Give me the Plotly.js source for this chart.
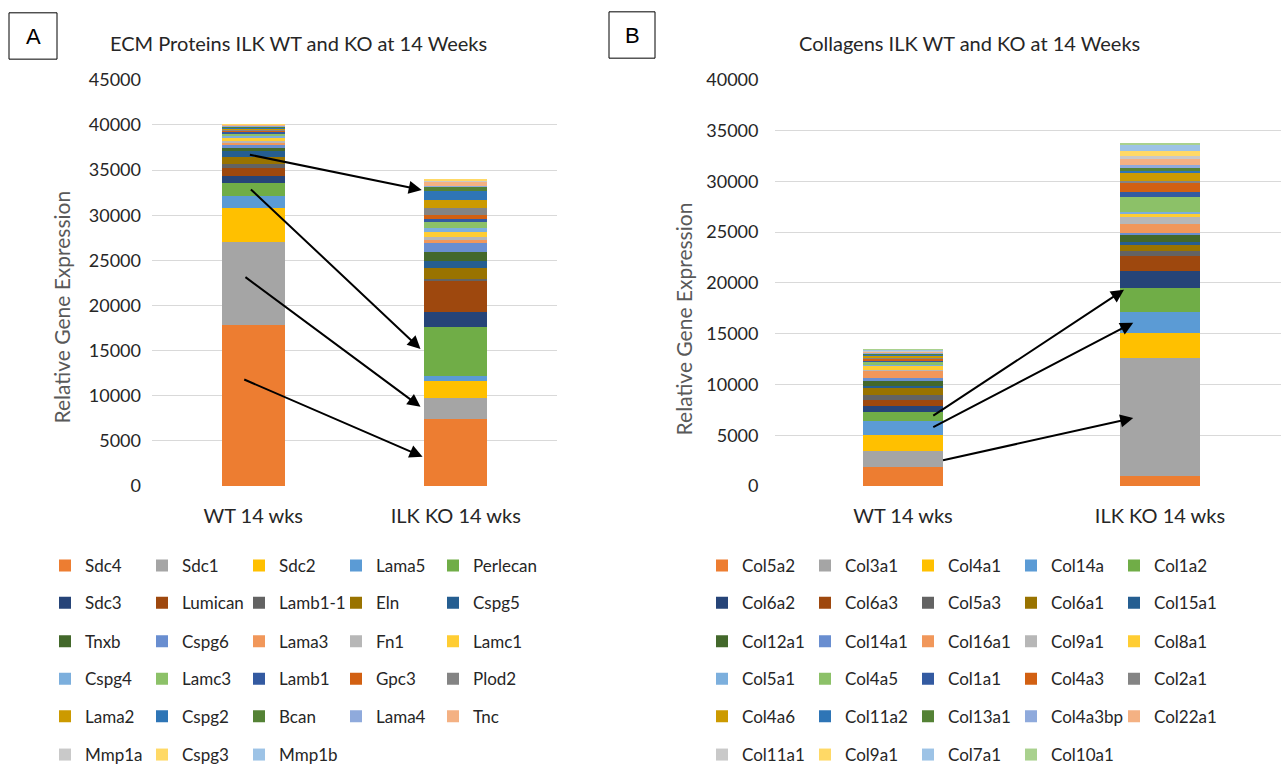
<!DOCTYPE html>
<html><head><meta charset="utf-8">
<script src="https://cdn.plot.ly/plotly-3.0.1.min.js"></script>
<style>html,body{margin:0;padding:0;background:#fff;}#chart{width:1281px;height:773px;}</style>
</head><body><div id="chart"></div>
<script>
const categories = ['WT 14 wks', 'ILK KO 14 wks'];

const ecmNames = ['Sdc4','Sdc1','Sdc2','Lama5','Perlecan','Sdc3','Lumican','Lamb1-1','Eln','Cspg5',
  'Tnxb','Cspg6','Lama3','Fn1','Lamc1','Cspg4','Lamc3','Lamb1','Gpc3','Plod2',
  'Lama2','Cspg2','Bcan','Lama4','Tnc','Mmp1a','Cspg3','Mmp1b'];
const ecmWT = [17800,9180,3820,1280,1450,840,910,440,720,730,
  260,350,250,200,300,250,250,150,120,150,
  150,100,80,100,80,60,50,30];
const ecmKO = [7420,2380,1810,550,5460,1640,3460,180,1270,730,
  980,1090,300,360,550,440,650,290,440,800,
  840,1090,360,180,440,110,180,60];

const colNames = ['Col5a2','Col3a1','Col4a1','Col14a','Col1a2','Col6a2','Col6a3','Col5a3','Col6a1','Col15a1',
  'Col12a1','Col14a1','Col16a1','Col9a1','Col8a1','Col5a1','Col4a5','Col1a1','Col4a3','Col2a1',
  'Col4a6','Col11a2','Col13a1','Col4a3bp','Col22a1','Col11a1','Col9a1','Col7a1','Col10a1'];
const colWT = [1910,1550,1520,1400,930,580,550,520,650,230,
  480,330,650,160,320,160,250,130,190,130,
  130,130,100,100,80,100,60,70,60];
const colKO = [1000,11650,2370,2100,2420,1600,1480,500,650,220,
  750,160,900,710,320,160,1460,490,870,260,
  710,260,260,320,550,320,490,580,230];

const palette = ['#ED7D31','#A5A5A5','#FFC000','#5B9BD5','#70AD47','#264478','#9E480E','#636363','#997300','#255E91',
  '#43682B','#698ED0','#F1975A','#B7B7B7','#FFCD33','#7CAFDD','#8CC168','#335AA1','#D26012','#848484',
  '#CC9A00','#2E75B6','#548235','#8FAADC','#F4B183','#C9C9C9','#FFD966','#9DC3E6','#A9D18E'];

const W = 1281, H = 773;
const px = v => v / W;
const py = v => 1 - v / H;
const FONT = 'Lato, "Open Sans", sans-serif';
const PLOT_TOP = 81, PLOT_BOTTOM = 493;

const legendRowsY = [574, 612, 651, 689, 727, 766];
const legA = {x0: 45, pitch: 97};
const legB = {x0: 702, pitch: 103};

function legendKey(panel, i) {
  const r = Math.floor(i / 5);
  const n = panel === 0 ? r + 1 : r + 7;
  return n === 1 ? 'legend' : 'legend' + n;
}
function legendW(panel, i, count) {
  const cfg = panel === 0 ? legA : legB;
  const lastInRow = (i % 5 === 4) || (i === count - 1);
  return lastInRow ? 110 : cfg.pitch - 45;
}

const traces = [];
ecmNames.forEach((name, i) => {
  traces.push({type: 'bar', x: categories, y: [ecmWT[i], ecmKO[i]], name: name,
    marker: {color: palette[i]}, xaxis: 'x', yaxis: 'y', legend: legendKey(0, i),
    legendwidth: legendW(0, i, ecmNames.length), hoverinfo: 'name+y'});
});
colNames.forEach((name, i) => {
  traces.push({type: 'bar', x: categories, y: [colWT[i], colKO[i]], name: name,
    marker: {color: palette[i]}, xaxis: 'x2', yaxis: 'y2', legend: legendKey(1, i),
    legendwidth: legendW(1, i, colNames.length), hoverinfo: 'name+y'});
});

const txt = (x, y, text, size, color, family, extra) => Object.assign({
  xref: 'paper', yref: 'paper', x: px(x), y: py(y), xanchor: 'center', yanchor: 'middle',
  text: text, showarrow: false, font: {family: family || FONT, size: size, color: color}}, extra || {});

const layout = {
  width: W, height: H, margin: {l: 0, r: 0, t: 0, b: 0, pad: 0},
  paper_bgcolor: '#fff', plot_bgcolor: '#fff',
  barmode: 'stack', bargap: 0.69,
  font: {family: FONT, color: '#404040'},
  xaxis: {domain: [px(152), px(557)], range: [-0.5, 1.5], type: 'category', anchor: 'y',
    showgrid: false, zeroline: false, showline: false, ticks: '', ticklabelstandoff: 16,
    tickfont: {family: FONT, size: 20, color: '#262626'}, automargin: false, fixedrange: true},
  yaxis: {domain: [py(PLOT_BOTTOM), py(PLOT_TOP)], range: [0, 45000], dtick: 5000, tick0: 0, anchor: 'x',
    gridcolor: '#d9d9d9', gridwidth: 1, zeroline: false, showline: false, ticks: '', tickformat: 'd',
    ticklabelstandoff: 10, tickfont: {family: FONT, size: 18, color: '#262626'}, automargin: false, fixedrange: true},
  xaxis2: {domain: [px(774.5), 1], range: [-0.5, 1.471], type: 'category', anchor: 'y2',
    showgrid: false, zeroline: false, showline: false, ticks: '', ticklabelstandoff: 16,
    tickfont: {family: FONT, size: 20, color: '#262626'}, automargin: false, fixedrange: true},
  yaxis2: {domain: [py(PLOT_BOTTOM), py(PLOT_TOP)], range: [0, 40000], dtick: 5000, tick0: 0, anchor: 'x2',
    gridcolor: '#d9d9d9', gridwidth: 1, zeroline: false, showline: false, ticks: '', tickformat: 'd',
    ticklabelstandoff: 15, tickfont: {family: FONT, size: 18, color: '#262626'}, automargin: false, fixedrange: true},
  shapes: [
    {type: 'rect', xref: 'paper', yref: 'paper', x0: px(9), x1: px(57), y0: py(60), y1: py(13), line: {color: '#000', width: 1}},
    {type: 'rect', xref: 'paper', yref: 'paper', x0: px(609), x1: px(655), y0: py(59), y1: py(12), line: {color: '#000', width: 1}}
  ],
  annotations: [
    txt(33, 37, 'A', 22, '#000', 'Liberation Sans, Arial'),
    txt(632, 36, 'B', 22, '#000', 'Liberation Sans, Arial'),
    txt(298, 44, 'ECM Proteins ILK WT and KO at 14 Weeks', 20, '#262626'),
    txt(970, 44, 'Collagens ILK WT and KO at 14 Weeks', 20, '#262626'),
    txt(62, 312, 'Relative Gene Expression', 21, '#595959', null, {textangle: -90}),
    txt(683, 324, 'Relative Gene Expression', 21, '#595959', null, {textangle: -90})
  ]
};

const arrows = [
  {xr: 'x', yr: 'y', ax: -0.024, ay: 36732, x: 0.832, y: 32799},
  {xr: 'x', yr: 'y', ax: -0.019, ay: 33017, x: 0.826, y: 15182},
  {xr: 'x', yr: 'y', ax: -0.046, ay: 23264, x: 0.826, y: 8770},
  {xr: 'x', yr: 'y', ax: -0.052, ay: 11872, x: 0.836, y: 3244},
  {xr: 'x2', yr: 'y2', ax: 0.112, ay: 6826, x: 0.86, y: 19321},
  {xr: 'x2', yr: 'y2', ax: 0.112, ay: 5728, x: 0.896, y: 16088},
  {xr: 'x2', yr: 'y2', ax: 0.15, ay: 2495, x: 0.896, y: 6699}
];
arrows.forEach(a => {
  layout.annotations.push({xref: a.xr, yref: a.yr, axref: a.xr, ayref: a.yr, x: a.x, y: a.y, ax: a.ax, ay: a.ay,
    text: '', showarrow: true, arrowhead: 2, arrowsize: 1.3, arrowwidth: 2, arrowcolor: '#000', standoff: 0, startstandoff: 0});
});

for (let p = 0; p < 2; p++) {
  const cfg = p === 0 ? legA : legB;
  for (let r = 0; r < 6; r++) {
    const n = p === 0 ? r + 1 : r + 7;
    const key = n === 1 ? 'legend' : 'legend' + n;
    layout[key] = {orientation: 'h', xref: 'paper', yref: 'paper', x: px(cfg.x0), xanchor: 'left',
      y: py(legendRowsY[r]), yanchor: 'middle', entrywidth: cfg.pitch - 45, entrywidthmode: 'pixels',
      traceorder: 'normal', bgcolor: 'rgba(0,0,0,0)', borderwidth: 0,
      font: {family: FONT, size: 17, color: '#262626'}, itemclick: false, itemdoubleclick: false};
  }
}

Plotly.newPlot('chart', traces, layout, {displayModeBar: false, staticPlot: true});
</script>
</body></html>
